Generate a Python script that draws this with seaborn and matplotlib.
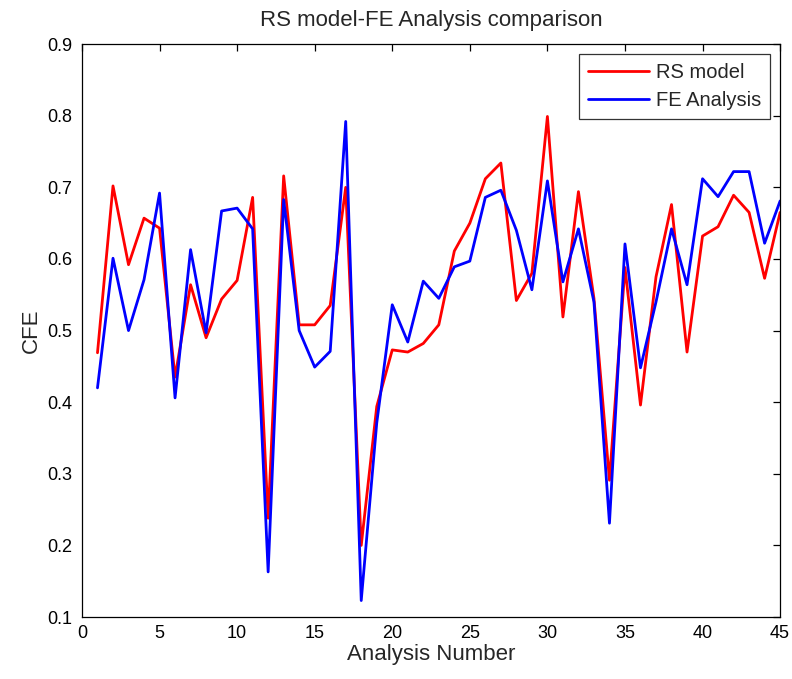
import matplotlib
matplotlib.use("Agg")
import matplotlib.pyplot as plt
import seaborn as sns
import pandas as pd
import numpy as np

analysis_number = list(range(1, 46))
rs_model = [0.469, 0.702, 0.592, 0.657, 0.643, 0.435, 0.564, 0.490, 0.544, 0.570,
            0.686, 0.238, 0.716, 0.508, 0.508, 0.535, 0.700, 0.200, 0.394, 0.473,
            0.470, 0.482, 0.508, 0.611, 0.650, 0.712, 0.734, 0.542, 0.580, 0.799,
            0.519, 0.694, 0.545, 0.291, 0.588, 0.396, 0.575, 0.676, 0.470, 0.632,
            0.645, 0.689, 0.665, 0.573, 0.665]
fe_analysis = [0.420, 0.601, 0.500, 0.571, 0.692, 0.406, 0.613, 0.497, 0.667, 0.671,
               0.642, 0.163, 0.683, 0.500, 0.449, 0.471, 0.792, 0.123, 0.371, 0.536,
               0.484, 0.569, 0.545, 0.589, 0.597, 0.686, 0.696, 0.640, 0.557, 0.709,
               0.568, 0.642, 0.540, 0.231, 0.621, 0.448, 0.540, 0.642, 0.564, 0.712,
               0.687, 0.722, 0.722, 0.622, 0.681]
series_names = ["RS model", "FE Analysis"]
x_ticks = [0, 5, 10, 15, 20, 25, 30, 35, 40, 45]
y_ticks = [0.1, 0.2, 0.3, 0.4, 0.5, 0.6, 0.7, 0.8, 0.9]

df = pd.DataFrame({
    "Analysis Number": analysis_number * 2,
    "CFE": rs_model + fe_analysis,
    "Series": [series_names[0]] * len(rs_model) + [series_names[1]] * len(fe_analysis),
})

sns.set_style("white")
plt.rcParams["font.family"] = ["Liberation Sans", "DejaVu Sans"]
plt.rcParams["xtick.direction"] = "in"
plt.rcParams["ytick.direction"] = "in"

fig = plt.figure(figsize=(7.92, 6.79), dpi=100)
ax = fig.add_axes([0.1035, 0.0913, 0.8815, 0.8437])

sns.lineplot(data=df, x="Analysis Number", y="CFE", hue="Series",
             palette={"RS model": "#ff0000", "FE Analysis": "#0000ff"},
             linewidth=2.0, ax=ax)

ax.set_xlim(0, 45)
ax.set_ylim(0.1, 0.9)
ax.set_xticks(x_ticks)
ax.set_yticks(y_ticks)
ax.set_xticklabels([str(t) for t in x_ticks])
ax.set_yticklabels([f"{t:g}" for t in y_ticks])
ax.tick_params(axis="both", which="both", direction="in", top=True, right=True,
               length=5, width=0.9, labelsize=13, colors="black")
ax.tick_params(axis="x", pad=6)
ax.tick_params(axis="y", pad=7)
for s in ax.spines.values():
    s.set_visible(True)
    s.set_color("black")
    s.set_linewidth(0.9)

ax.set_xlabel("Analysis Number", fontsize=16, labelpad=1)
ax.set_ylabel("CFE", fontsize=16, labelpad=4)
ax.set_title("RS model-FE Analysis comparison", fontsize=16, pad=13)

leg = ax.legend(loc="upper right", fontsize=14.5, frameon=True, fancybox=False,
                handlelength=3.0, borderaxespad=0.5, handletextpad=0.35,
                labelspacing=0.45, borderpad=0.45)
leg.get_frame().set_edgecolor("black")
leg.get_frame().set_linewidth(0.9)
for line in leg.get_lines():
    line.set_linewidth(2.0)

fig.savefig("out.png", dpi=100, facecolor="white")
